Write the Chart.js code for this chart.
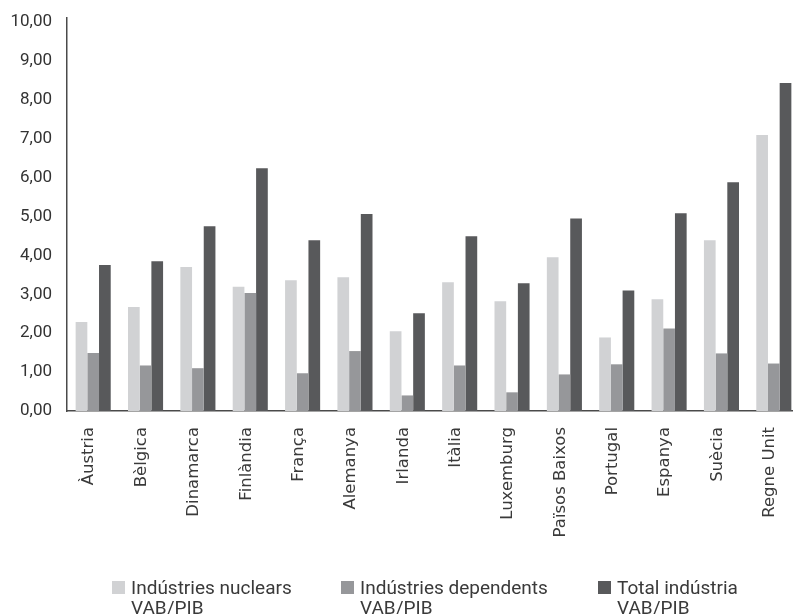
<!DOCTYPE html>
<html>
<head>
<meta charset="utf-8">
<script src="https://cdn.jsdelivr.net/npm/chart.js@4/dist/chart.umd.min.js"></script>
<style>
  html, body { margin: 0; padding: 0; background: #ffffff; overflow: hidden; width: 793px; height: 614px; }
  #wrap { position: relative; width: 800px; height: 614px; }
  canvas { display: block; }
  .leg { position: absolute; top: 578px; font-family: Roboto, sans-serif; font-size: 19px; line-height: 20px; color: #3a3a3a; white-space: nowrap; }
  .sw { position: absolute; left: -19px; top: 3px; width: 13px; height: 13px; }
</style>
</head>
<body>
<div id="wrap">
  <canvas id="c" width="800" height="614"></canvas>
  <div id="legend"></div>
</div>
<script>
const categories = ["Àustria", "Bèlgica", "Dinamarca", "Finlàndia", "França", "Alemanya", "Irlanda", "Itàlia", "Luxemburg", "Països Baixos", "Portugal", "Espanya", "Suècia", "Regne Unit"];
const nuclears    = [2.29, 2.67, 3.70, 3.19, 3.36, 3.44, 2.05, 3.31, 2.82, 3.95, 1.89, 2.87, 4.39, 7.09];
const dependents  = [1.49, 1.17, 1.10, 3.03, 0.97, 1.54, 0.40, 1.17, 0.48, 0.94, 1.20, 2.12, 1.48, 1.22];
const total       = [3.75, 3.85, 4.75, 6.24, 4.39, 5.06, 2.51, 4.49, 3.28, 4.95, 3.10, 5.08, 5.88, 8.43];
const seriesLabels = [["Indústries nuclears", "VAB/PIB"], ["Indústries dependents", "VAB/PIB"], ["Total indústria", "VAB/PIB"]];
const yTicks = [0, 1, 2, 3, 4, 5, 6, 7, 8, 9, 10];

const colors = ["#d1d2d4", "#96979a", "#58595b"];
const legendLeft = [131, 360, 617];

const ctx = document.getElementById('c').getContext('2d');
const chart = new Chart(ctx, {
  type: 'bar',
  data: {
    labels: categories,
    datasets: [
      { label: seriesLabels[0].join(' '), data: nuclears, backgroundColor: colors[0] },
      { label: seriesLabels[1].join(' '), data: dependents, backgroundColor: colors[1] },
      { label: seriesLabels[2].join(' '), data: total, backgroundColor: colors[2] }
    ]
  },
  options: {
    responsive: false,
    animation: false,
    layout: { autoPadding: false, padding: { top: 18, left: 0, right: 0, bottom: 0 } },
    datasets: { bar: { categoryPercentage: 0.67, barPercentage: 1.0, borderWidth: 0 } },
    plugins: { legend: { display: false }, tooltip: { enabled: false } },
    scales: {
      x: {
        grid: { display: false, drawTicks: false },
        border: { display: true, color: '#4a4a4a', width: 1.5 },
        ticks: {
          autoSkip: false, minRotation: 90, maxRotation: 90, padding: 16, labelOffset: -4,
          color: '#3a3a3a', font: { family: 'DejaVu Sans', size: 16.5 }
        },
        afterFit: (s) => { s.height = 203; s.paddingTop = 0; s.paddingBottom = 0; s.paddingLeft = 0; s.paddingRight = 0; }
      },
      y: {
        min: 0, max: 10.1,
        afterBuildTicks: (s) => { s.ticks = yTicks.map(v => ({ value: v })); },
        grid: { display: false, drawTicks: false },
        border: { display: true, color: '#4a4a4a', width: 1.5 },
        ticks: {
          padding: 15, color: '#333333', font: { family: 'Roboto', size: 17 },
          callback: (v) => Number(v).toFixed(2).replace('.', ',')
        },
        afterFit: (s) => { s.width = 67; s.paddingTop = 0; s.paddingBottom = 0; }
      }
    }
  }
});

const leg = document.getElementById('legend');
seriesLabels.forEach((lines, i) => {
  const d = document.createElement('div');
  d.className = 'leg';
  d.style.left = legendLeft[i] + 'px';
  const sw = document.createElement('span');
  sw.className = 'sw';
  sw.style.background = colors[i];
  d.appendChild(sw);
  lines.forEach((t, k) => {
    if (k) d.appendChild(document.createElement('br'));
    d.appendChild(document.createTextNode(t));
  });
  leg.appendChild(d);
});
</script>
</body>
</html>
